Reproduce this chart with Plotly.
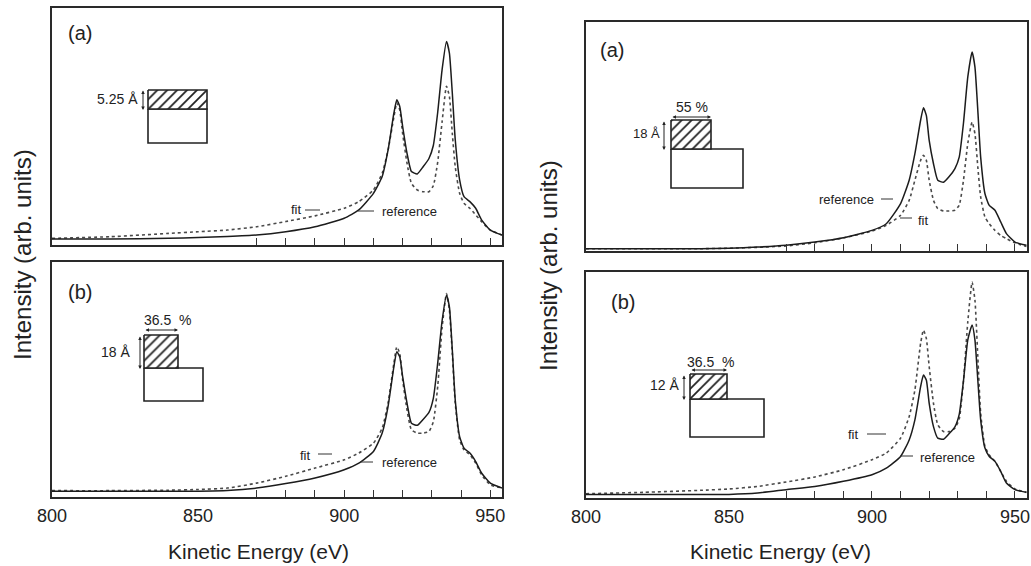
import plotly.graph_objects as go

# ---------------- data ----------------
energy = [800, 820, 840, 850, 860, 870, 880, 890, 900, 905, 910, 913, 915, 917, 918, 919,
          920, 921.5, 923, 925, 927, 929, 930.5, 932, 933.5, 935, 936, 937, 938, 939.5,
          941, 943, 945, 947, 950, 954]

# left column, panel (a)
la_ref = [2.5, 2.5, 2.8, 3.2, 3.6, 4.2, 5.6, 7.7, 11.3, 14.8, 21.8, 28.9, 40, 55.6, 61.3, 58.5,
          50, 38.7, 31, 30, 33, 36.5, 42, 56, 74, 85.9, 81, 64, 44.4, 27.5,
          20.4, 18.3, 15.5, 10.6, 6.3, 4.2]
la_fit = [2.8, 3.5, 4.9, 5.6, 6.3, 7.7, 9.9, 12.3, 15.5, 18.3, 23.2, 30.3, 40, 54, 60, 57,
          47, 34.5, 26, 23.2, 22.5, 22.5, 25, 35, 52, 67, 62.7, 47, 33, 21.8,
          17.6, 15.5, 12.7, 9.9, 6.3, 4.2]
# left column, panel (b)
lb_ref = [2.4, 2.4, 2.4, 2.5, 2.8, 3.8, 5.7, 8.1, 11.6, 14.4, 19.4, 27.2, 38.5, 55.4, 61.8, 59.7,
          51.2, 39.9, 31.4, 30.5, 33, 36, 42, 57, 75, 85.9, 80.9, 62.5, 41.3, 25.7,
          20.8, 18.7, 15.1, 10.2, 5.9, 3.8]
lb_fit = [2.7, 2.7, 2.9, 3.2, 3.8, 5.9, 8.8, 12.3, 15.8, 18.7, 22.9, 29.3, 39.9, 56.9, 63.9, 61.1,
          49.8, 37, 28.6, 27.2, 27.2, 27.9, 32, 47, 72, 86.6, 79.5, 61.1, 39.9, 24.3,
          20.1, 18, 14.4, 9.5, 5.2, 3.8]
# right column, panel (a)
ra_ref = [1, 1, 1, 1.2, 1.7, 2.5, 3.9, 5.8, 9, 11.9, 20.7, 30.9, 42.5, 57.1, 62.6, 59.2,
          48.3, 38.1, 30.9, 30, 32.5, 36, 41, 56, 76, 86.9, 80.3, 61.4, 41, 25,
          19.9, 17.8, 12.7, 7.6, 3.9, 2.5]
ra_fit = [1, 1, 1, 1.2, 1.6, 2.2, 3.6, 5.7, 8.7, 11.2, 15.6, 22.1, 30.9, 39.6, 41.8, 39.6,
          30.9, 22.1, 18.5, 17.5, 17.5, 17.8, 20, 31, 47, 56.3, 51.2, 36.7, 23.6, 14.8,
          11.9, 9, 6.8, 5.4, 3.5, 2]
# right column, panel (b)
rb_ref = [1.5, 1.5, 1.5, 1.6, 2.2, 3.7, 5.1, 7.4, 10.3, 13.2, 18.4, 25.7, 34.6, 49.3, 54.4, 52.2,
          41.9, 31.6, 26.5, 26, 28.5, 31.5, 37, 52, 70, 76.5, 69.9, 52.2, 34.6, 22.1,
          18.4, 16.2, 11.8, 6.6, 3.7, 2.5]
rb_fit = [1.9, 2.5, 3.4, 4, 5.1, 7.1, 9.3, 12.5, 16.9, 19.9, 26.5, 36, 47.8, 68.4, 74.3, 70.6,
          58.1, 41.9, 32.4, 29.4, 29.4, 30.9, 35, 52, 78, 95.5, 87.5, 62.5, 37.5, 22.8,
          19.1, 16.2, 11.8, 7.4, 4, 2.5]

tick_vals = [800, 850, 900, 950]
tick_text = ["800", "850", "900", "950"]
minor_ticks = [870, 880, 890, 900, 910, 920, 930, 940, 950]

# ---------------- layout helpers ----------------
W, H = 1031, 566
FONT = "Arial, Liberation Sans, sans-serif"
TXT = "#222222"


def xd(a, b):
    return [a / W, b / W]


def yd(top, bottom):
    return [1 - bottom / H, 1 - top / H]


fig = go.Figure()

panels = [
    ("x", "y", la_ref, la_fit),
    ("x2", "y2", lb_ref, lb_fit),
    ("x3", "y3", ra_ref, ra_fit),
    ("x4", "y4", rb_ref, rb_fit),
]
for xa, ya, ref, fit in panels:
    fig.add_trace(go.Scatter(x=energy, y=fit, xaxis=xa, yaxis=ya, mode="lines",
                             line=dict(color="#4a4a4a", width=1.6, dash="dot",
                                       shape="spline", smoothing=0.5),
                             showlegend=False, hoverinfo="skip"))
    fig.add_trace(go.Scatter(x=energy, y=ref, xaxis=xa, yaxis=ya, mode="lines",
                             line=dict(color="#1c1c1c", width=1.5,
                                       shape="spline", smoothing=0.5),
                             showlegend=False, hoverinfo="skip"))


def xaxis(domain, anchor, labels, rng):
    return dict(domain=domain, anchor=anchor, range=rng, showline=True, mirror=True,
                linecolor="#2a2a2a", linewidth=1.6, showgrid=False, zeroline=False,
                automargin=False,
                tickmode="array", tickvals=tick_vals, ticktext=tick_text, ticks="",
                showticklabels=labels, ticklabelstandoff=2,
                tickfont=dict(size=18, color=TXT, family=FONT),
                minor=dict(tickmode="array", tickvals=minor_ticks, ticks="inside",
                           ticklen=7, tickcolor="#333333", tickwidth=1, showgrid=False))


def yaxis(domain, anchor):
    return dict(domain=domain, anchor=anchor, range=[0, 100], showline=True, mirror=True,
                linecolor="#2a2a2a", linewidth=1.6, showgrid=False, zeroline=False,
                automargin=False, showticklabels=False, ticks="")


fig.update_layout(
    template="none",
    width=W, height=H, margin=dict(l=0, r=0, t=0, b=0, pad=0, autoexpand=False),
    paper_bgcolor="white", plot_bgcolor="rgba(0,0,0,0)",
    font=dict(family=FONT, color=TXT),
    xaxis=xaxis(xd(52, 502), "y", False, [800, 954]),
    yaxis=yaxis(yd(8, 245), "x"),
    xaxis2=xaxis(xd(52, 502), "y2", True, [800, 954]),
    yaxis2=yaxis(yd(262, 497), "x2"),
    xaxis3=xaxis(xd(586, 1027), "y3", False, [800, 954.2]),
    yaxis3=yaxis(yd(22, 251), "x3"),
    xaxis4=xaxis(xd(586, 1027), "y4", True, [800, 954.2]),
    yaxis4=yaxis(yd(272, 498), "x4"),
    # pixel overlay for insets and labels
    xaxis5=dict(domain=[0, 1], range=[0, W], visible=False, anchor="y5",
                fixedrange=True, automargin=False),
    yaxis5=dict(domain=[0, 1], range=[H, 0], visible=False, anchor="x5",
                fixedrange=True, automargin=False),
)

# ---------------- insets ----------------
insets = [
    # hatched x0,x1,y0,y1 ; lower x0,x1,y0,y1
    ((148, 207, 90, 109), (148, 207, 109, 143)),
    ((144, 178, 335, 368), (144, 203, 368, 401)),
    ((671, 711, 120, 149), (671, 743, 149, 188)),
    ((690, 727, 374, 399), (690, 764, 399, 437)),
]
for (hx0, hx1, hy0, hy1), (lx0, lx1, ly0, ly1) in insets:
    fig.add_trace(go.Scatter(x=[lx0, lx1, lx1, lx0, lx0], y=[ly0, ly0, ly1, ly1, ly0],
                             xaxis="x5", yaxis="y5", mode="lines", fill="toself",
                             fillcolor="white", line=dict(color="#222", width=1.6),
                             showlegend=False, hoverinfo="skip"))
    fig.add_trace(go.Scatter(x=[hx0, hx1, hx1, hx0, hx0], y=[hy0, hy0, hy1, hy1, hy0],
                             xaxis="x5", yaxis="y5", mode="lines", fill="toself",
                             fillpattern=dict(shape="/", fgcolor="#222", bgcolor="white",
                                              size=7, solidity=0.25),
                             line=dict(color="#222", width=1.6),
                             showlegend=False, hoverinfo="skip"))

annotations = []


def txt(x, y, s, size=13, xanchor="center", angle=0):
    annotations.append(dict(x=x, y=y, xref="x5", yref="y5", text=s, showarrow=False,
                            xanchor=xanchor, yanchor="middle", textangle=angle,
                            font=dict(size=size, color=TXT, family=FONT)))


def arrow(x0, y0, x1, y1):
    annotations.append(dict(x=x1, y=y1, ax=x0, ay=y0, xref="x5", yref="y5",
                            axref="x5", ayref="y5", text="", showarrow=True,
                            arrowhead=2, startarrowhead=2, arrowside="end+start",
                            arrowsize=0.7, startarrowsize=0.7, arrowwidth=1,
                            arrowcolor="#222"))


# panel letters
txt(80, 33, "(a)", 20)
txt(80, 292, "(b)", 20)
txt(612, 50, "(a)", 20)
txt(623, 302, "(b)", 20)

# inset dimension labels
txt(140, 99, "5.25 Å", 14, "right")
arrow(143, 89, 143, 110)

txt(167, 320, "36.5  %", 14)
arrow(144, 330, 178, 330)
txt(132, 352, "18 Å", 14, "right")
arrow(140, 335, 140, 369)

txt(692, 107, "55 %", 14)
arrow(671, 117, 711, 117)
txt(662, 133, "18 Å", 13, "right")
arrow(664, 120, 664, 150)

txt(710, 362, "36.5  %", 14)
arrow(690, 370, 727, 370)
txt(681, 385, "12 Å", 14, "right")
arrow(684, 374, 684, 400)

# curve labels
txt(296, 209, "fit", 13)
txt(380, 211, "reference", 13, "left")
txt(305, 455, "fit", 13)
txt(380, 462, "reference", 13, "left")
txt(876, 199, "reference", 13, "right")
txt(916, 220, "fit", 13, "left")
txt(853, 434, "fit", 13)
txt(918, 457, "reference", 13, "left")

lead_lines = [
    (305, 210, 320, 210), (358, 211, 374, 211),
    (318, 454, 332, 454), (360, 462, 373, 462),
    (881, 199, 893, 199), (900, 218, 912, 218),
    (867, 434, 886, 434), (900, 456, 913, 456),
]
shapes = []
for x0, y0, x1, y1 in lead_lines:
    shapes.append(dict(type="line", xref="x5", yref="y5", x0=x0, y0=y0, x1=x1, y1=y1,
                       line=dict(color="#333", width=1)))

# axis titles
txt(22, 255, "Intensity (arb. units)", 24, angle=-90)
txt(548, 266, "Intensity (arb. units)", 24, angle=-90)
txt(258, 551, "Kinetic Energy (eV)", 21)
txt(780, 551, "Kinetic Energy (eV)", 21)

fig.update_layout(annotations=annotations, shapes=shapes)

fig.write_html("out.html")
